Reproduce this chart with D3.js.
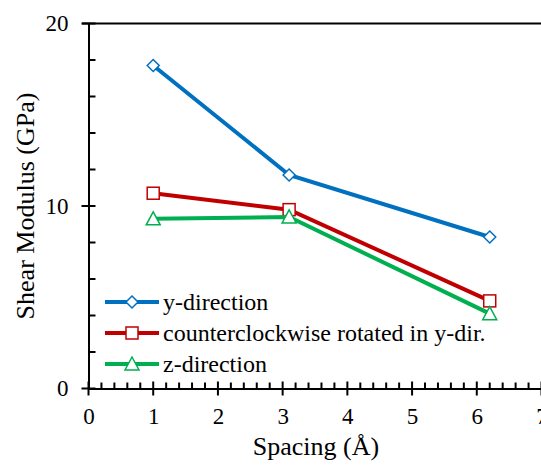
<!DOCTYPE html>
<html><head><meta charset="utf-8">
<script src="https://cdn.jsdelivr.net/npm/d3@7"></script>
<style>body{margin:0;background:#fff}svg{display:block}</style>
</head><body>
<script>
const xTicks = [0,1,2,3,4,5,6,7];
const yTicks = [0,10,20];
const seriesNames = ["y-direction","counterclockwise rotated in y-dir.","z-direction"];
const spacing = [1, 3.1, 6.2];
const yDir = [17.7, 11.7, 8.3];
const ccwRot = [10.7, 9.8, 4.8];
const zDir = [9.3, 9.4, 4.1];
const colors = ["#0070C0","#C00000","#00B050"];
const markers = ["diamond","square","triangle"];

const W=541,H=466;
const FF="'Liberation Serif'";
const svg=d3.select("body").append("svg").attr("width",W).attr("height",H);
const x=d3.scaleLinear().domain([0,7]).range([88.5,541.5]);
const y=d3.scaleLinear().domain([0,20]).range([388.5,23.5]);

// top frame line
svg.append("line").attr("x1",82).attr("x2",W).attr("y1",y(20)).attr("y2",y(20)).attr("stroke","#000").attr("stroke-width",2);

// y minor ticks (inside)
const yMinor=d3.range(0,20.01,2).filter(v=>v%10!==0);
svg.append("g").selectAll("line").data(yMinor).join("line")
 .attr("x1",x(0)).attr("x2",x(0)+7).attr("y1",d=>y(d)).attr("y2",d=>y(d)).attr("stroke","#000").attr("stroke-width",2);
// x minor ticks (inside)
const xMinor=d3.range(0,7.01,0.2).map(v=>+v.toFixed(1)).filter(v=>Math.abs(v-Math.round(v))>1e-6);
svg.append("g").selectAll("line").data(xMinor).join("line")
 .attr("x1",d=>x(d)).attr("x2",d=>x(d)).attr("y1",y(0)).attr("y2",y(0)-6).attr("stroke","#000").attr("stroke-width",2);

// axes
const yAx=svg.append("g").attr("transform",`translate(${x(0)},0)`)
 .call(d3.axisLeft(y).tickValues(yTicks).tickSize(0).tickPadding(20).tickFormat(d3.format("d")));
yAx.select(".domain").attr("stroke","#000").attr("stroke-width",2);
yAx.selectAll("text").style("font-family",FF).style("font-size","23px").attr("fill","#000");
svg.append("g").selectAll("line").data(yTicks).join("line")
 .attr("x1",x(0)-7).attr("x2",x(0)+7).attr("y1",d=>y(d)).attr("y2",d=>y(d)).attr("stroke","#000").attr("stroke-width",2);

const xAx=svg.append("g").attr("transform",`translate(0,${y(0)})`)
 .call(d3.axisBottom(x).tickValues(xTicks).tickSize(0).tickPadding(19).tickFormat(d3.format("d")));
xAx.select(".domain").attr("stroke","#000").attr("stroke-width",2);
xAx.selectAll("text").style("font-family",FF).style("font-size","23px").attr("fill","#000");
svg.append("g").selectAll("line").data(xTicks).join("line")
 .attr("x1",d=>x(d)).attr("x2",d=>x(d)).attr("y1",y(0)-7).attr("y2",y(0)+7).attr("stroke","#000").attr("stroke-width",2);

// titles
svg.append("text").attr("x",316).attr("y",455).attr("text-anchor","middle")
 .style("font-family",FF).style("font-size","26px").text("Spacing (Å)");
svg.append("text").attr("transform",`translate(34,206) rotate(-90)`).attr("text-anchor","middle")
 .style("font-family",FF).style("font-size","26px").text("Shear Modulus (GPa)");

function marker(g,type,cx,cy,color){
  if(type==="diamond"){
    g.append("path").attr("d",`M${cx},${cy-6}L${cx+6},${cy}L${cx},${cy+6}L${cx-6},${cy}Z`)
     .attr("fill","#fff").attr("stroke",color).attr("stroke-width",1.5);
  } else if(type==="square"){
    g.append("rect").attr("x",cx-6).attr("y",cy-6).attr("width",12).attr("height",12)
     .attr("fill","#fff").attr("stroke",color).attr("stroke-width",1.5);
  } else {
    g.append("path").attr("d",`M${cx},${cy-7}L${cx+7},${cy+6}L${cx-7},${cy+6}Z`)
     .attr("fill","#fff").attr("stroke",color).attr("stroke-width",1.5);
  }
}

const all=[yDir,ccwRot,zDir];
const line=d3.line().x(d=>x(d[0])).y(d=>y(d[1]));
all.forEach((vals,i)=>{
  const pts=spacing.map((s,j)=>[s,vals[j]]);
  const g=svg.append("g");
  g.append("path").attr("d",line(pts)).attr("fill","none").attr("stroke",colors[i]).attr("stroke-width",4);
  pts.forEach(p=>marker(g,markers[i],x(p[0]),y(p[1]),colors[i]));
});

// legend
const lg=svg.append("g");
const legY=[302,333,364];
seriesNames.forEach((n,i)=>{
  lg.append("line").attr("x1",105).attr("x2",159).attr("y1",legY[i]).attr("y2",legY[i]).attr("stroke",colors[i]).attr("stroke-width",4);
  marker(lg,markers[i],132,legY[i],colors[i]);
  lg.append("text").attr("x",163).attr("y",legY[i]+8).style("font-family",FF).style("font-size","24px").text(n);
});
</script>
</body></html>
